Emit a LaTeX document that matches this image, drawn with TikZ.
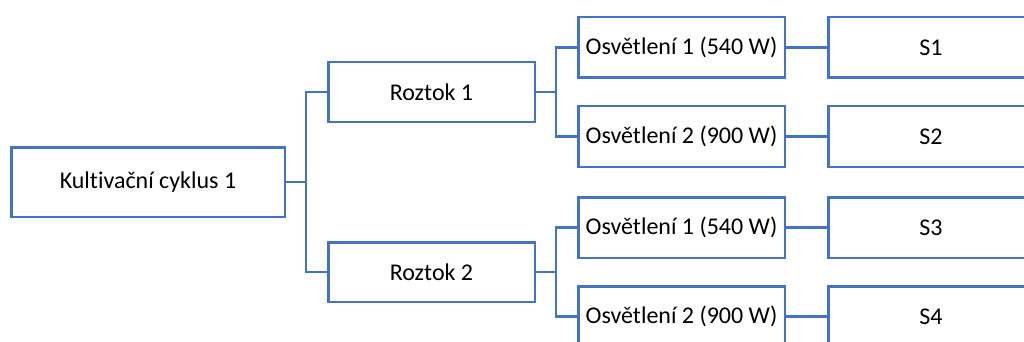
\documentclass[tikz,border=0pt]{standalone}
\usepackage{fontspec}
\setmainfont{Carlito}[Ligatures=NoCommon]
\usepackage{tikz}
\usetikzlibrary{positioning}
\usepackage{xcolor}
\definecolor{cyblue}{RGB}{68,114,196}
\tikzstyle{link} = [line width=2.5pt, color=cyblue]
\tikzstyle{stagebox} = [rectangle, draw=cyblue, line width=2.5pt, fill=white, minimum height=60.5pt, text centered, inner sep=0pt, font=\fontsize{24}{28}\selectfont]

\begin{document}
\begin{tikzpicture}[x=1pt, y=1pt, node distance=41pt]
    \useasboundingbox (0,0) rectangle (1024,-342);
    % Nodes
    \node[stagebox, minimum width=273.5pt, minimum height=69.5pt] (cycle) at (148,-182) {Kultivační cyklus 1};
    \node[stagebox, minimum width=206.5pt, minimum height=59.5pt, right=of cycle, yshift=90pt] (sol1) {Roztok 1};
    \node[stagebox, minimum width=206.5pt, minimum height=59.5pt, right=of cycle, yshift=-90pt] (sol2) {Roztok 2};
    \node[stagebox, minimum width=206.5pt, right=of sol1, yshift=44.5pt] (light1) {Osvětlení 1 (540 W)};
    \node[stagebox, minimum width=206.5pt, right=of sol1, yshift=-44.5pt] (light2) {Osvětlení 2 (900 W)};
    \node[stagebox, minimum width=206.5pt, right=of sol2, yshift=44.5pt] (light3) {Osvětlení 1 (540 W)};
    \node[stagebox, minimum width=206.5pt, right=of sol2, yshift=-44.5pt] (light4) {Osvětlení 2 (900 W)};
    \node[stagebox, minimum width=205.5pt, right=of light1] (s1) {S1};
    \node[stagebox, minimum width=205.5pt, right=of light2] (s2) {S2};
    \node[stagebox, minimum width=205.5pt, right=of light3] (s3) {S3};
    \node[stagebox, minimum width=205.5pt, right=of light4] (s4) {S4};

    % Connectors
    \draw[link] (cycle.east) -- ++(20pt,0) |- (sol1.west);
    \draw[link] (cycle.east) -- ++(20pt,0) |- (sol2.west);
    \draw[link] (sol1.east) -- ++(20pt,0) |- (light1.west);
    \draw[link] (sol1.east) -- ++(20pt,0) |- (light2.west);
    \draw[link] (sol2.east) -- ++(20pt,0) |- (light3.west);
    \draw[link] (sol2.east) -- ++(20pt,0) |- (light4.west);
    \draw[link] (light1) -- (s1);
    \draw[link] (light2) -- (s2);
    \draw[link] (light3) -- (s3);
    \draw[link] (light4) -- (s4);
\end{tikzpicture}
\end{document}
